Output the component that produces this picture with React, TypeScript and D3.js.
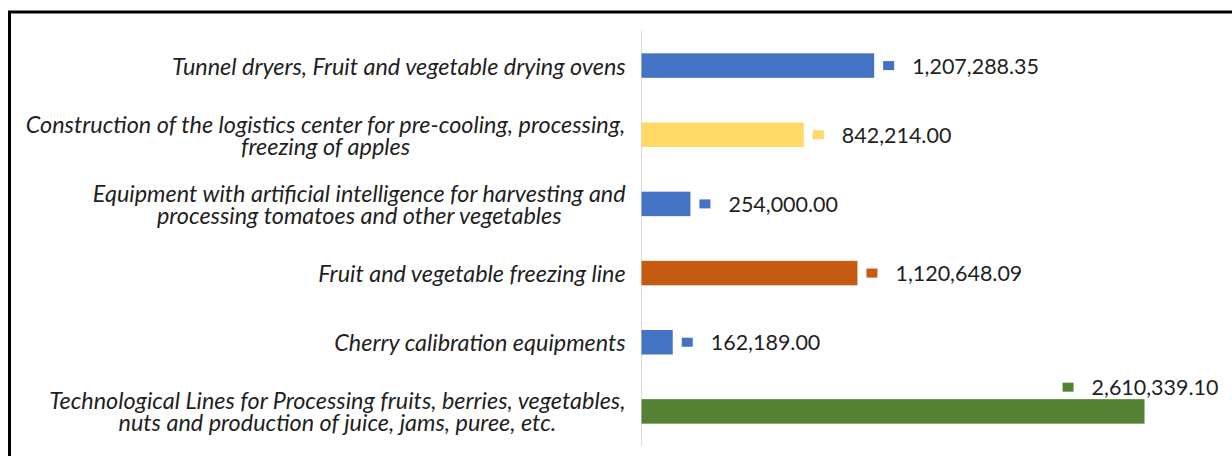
import React from "react";
import * as d3 from "d3";

const categories = [
  "Tunnel dryers, Fruit and vegetable drying ovens",
  "Construction of the logistics center for pre-cooling, processing,\nfreezing of apples",
  "Equipment with artificial intelligence for harvesting and\nprocessing tomatoes and other vegetables",
  "Fruit and vegetable freezing line",
  "Cherry calibration equipments",
  "Technological Lines for Processing fruits, berries, vegetables,\nnuts and production of juice, jams, puree, etc.",
];
const values = [1207288.35, 842214.0, 254000.0, 1120648.09, 162189.0, 2610339.1];
const colors = ["#4472C4", "#FFD966", "#4472C4", "#C55A11", "#4472C4", "#548235"];
const xDomainMax = 3000000;

const W = 1232;
const H = 456;
const FONT = "Lato, 'Open Sans', 'Liberation Sans', sans-serif";

let ctx: CanvasRenderingContext2D | null = null;
function measure(text: string, font: string): number {
  if (!ctx) {
    const c = document.createElement("canvas");
    ctx = c.getContext("2d");
  }
  if (!ctx) return text.length * 8;
  ctx.font = font;
  return ctx.measureText(text).width;
}

export default function App() {
  const fmt = d3.format(",.2f");
  const labelSize =
    (16 * 601) / measure("Construction of the logistics center for pre-cooling, processing,", `italic 16px ${FONT}`);
  const valueSize = (16 * 127) / measure("1,207,288.35", `16px ${FONT}`);

  const y = d3
    .scaleBand<string>()
    .domain(categories)
    .range([31, 446])
    .paddingInner(0.646)
    .paddingOuter(0.323);
  const x = d3.scaleLinear().domain([0, xDomainMax]).range([641.5, 1219.6]);

  const labelRight = 626;
  const lineH = 22;
  const markerW = 11;
  const markerH = 9;
  const markerGap = 9;
  const textGap = 38;
  const limit = 1222;

  return (
    <svg
      width={W}
      height={H}
      style={{ position: "absolute", left: 0, top: 0, background: "#fff" }}
    >
      <rect x={0} y={0} width={W} height={H} fill="#fff" />
      <rect x={9.5} y={12} width={W + 20} height={H + 20} fill="none" stroke="#000" strokeWidth={3} />
      <line x1={x(0)} x2={x(0)} y1={y.range()[0]} y2={y.range()[1]} stroke="#d9d9d9" strokeWidth={1} />
      {categories.map((cat, i) => {
        const cy = (y(cat) as number) + y.bandwidth() / 2;
        const lines = cat.split("\n");
        const widths = lines.map((l) => measure(l, `italic ${labelSize}px ${FONT}`));
        const blockW = Math.max(...widths);
        const centerX = labelRight - blockW / 2;
        const startY = cy - ((lines.length - 1) * lineH) / 2;
        return (
          <text
            key={"l" + i}
            fontFamily={FONT}
            fontStyle="italic"
            fontSize={labelSize}
            fill="#1f1f1f"
            textAnchor="middle"
            dominantBaseline="central"
          >
            {lines.map((l, j) => (
              <tspan key={j} x={centerX} y={startY + j * lineH}>
                {l}
              </tspan>
            ))}
          </text>
        );
      })}
      {values.map((v, i) => {
        const cat = categories[i];
        const top = y(cat) as number;
        const cy = top + y.bandwidth() / 2;
        const x1 = x(v);
        const label = fmt(v);
        const tw = measure(label, `${valueSize}px ${FONT}`);
        let mx = x1 + markerGap;
        let tx = x1 + textGap;
        let ly = cy;
        if (tx + tw > limit) {
          const total = textGap - markerGap + tw;
          mx = x1 - total / 2 - 4;
          tx = mx + (textGap - markerGap);
          ly = top - 12;
        }
        return (
          <g key={"b" + i}>
            <rect x={x(0)} y={top} width={x1 - x(0)} height={y.bandwidth()} fill={colors[i]} />
            <rect x={mx} y={ly - markerH / 2} width={markerW} height={markerH} fill={colors[i]} />
            <text
              x={tx}
              y={ly}
              fontFamily={FONT}
              fontSize={valueSize}
              fill="#1f1f1f"
              dominantBaseline="central"
            >
              {label}
            </text>
          </g>
        );
      })}
    </svg>
  );
}
